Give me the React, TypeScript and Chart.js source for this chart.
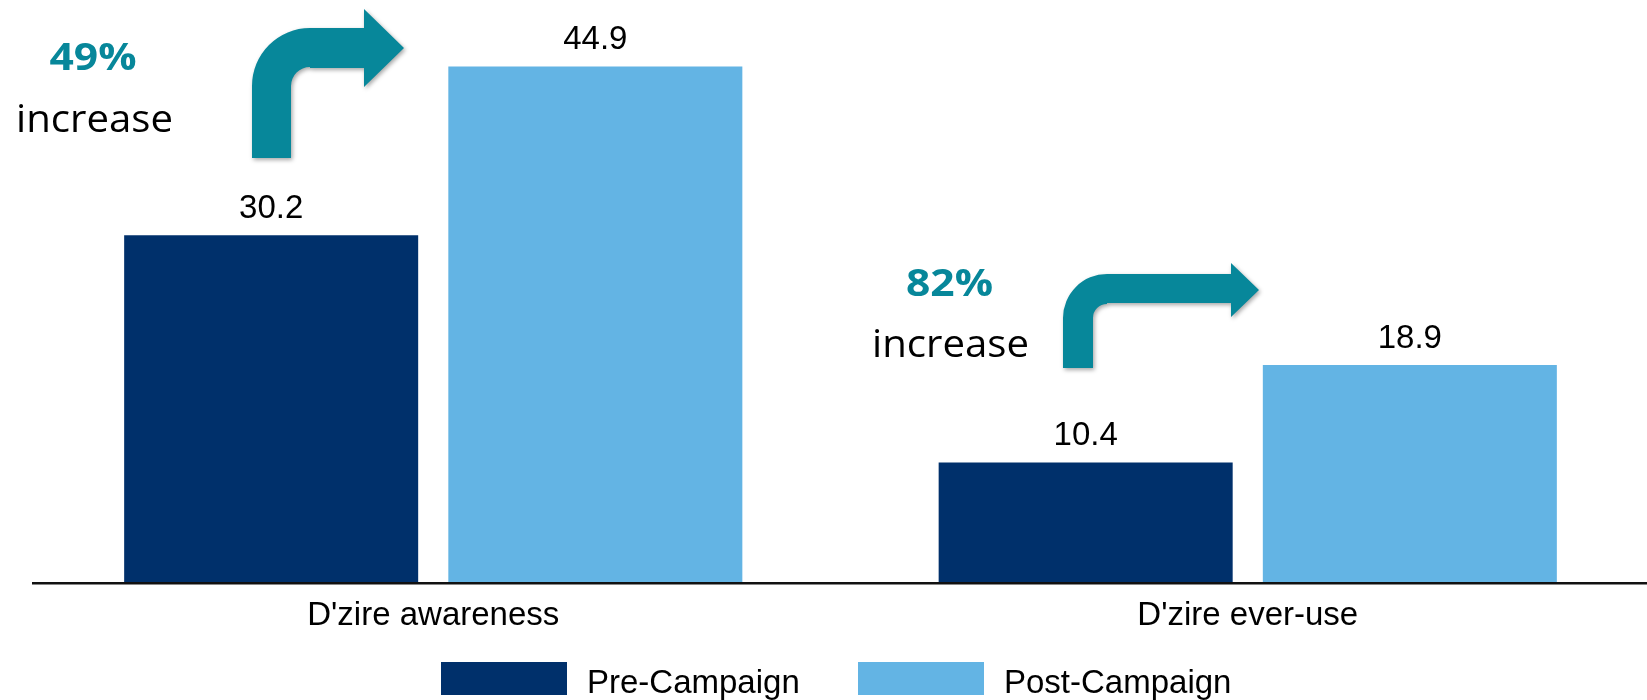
import React, { useEffect, useRef } from "react";
import { Chart, registerables } from "chart.js";

Chart.register(...registerables);

const categories = ["D'zire awareness", "D'zire ever-use"];
const seriesNames = ["Pre-Campaign", "Post-Campaign"];
const preCampaign = [30.2, 10.4];
const postCampaign = [44.9, 18.9];
const increaseLabels = ["49%", "82%"];
const increaseWord = "increase";

const PRE_COLOR = "#00306B";
const POST_COLOR = "#63B4E4";
const TEAL = "#07879A";
const ARIAL = "'Liberation Sans', Arial, sans-serif";
const CALIBRI = "'Open Sans', 'Noto Sans', sans-serif";

function drawBentArrow(
  ctx: CanvasRenderingContext2D,
  stemLeft: number,
  stemRight: number,
  stemBottom: number,
  bandTop: number,
  bandBottom: number,
  outerR: number,
  headBase: number,
  headTop: number,
  headBottom: number,
  tipX: number
) {
  const innerR = outerR - (stemRight - stemLeft);
  const cx = stemLeft + outerR;
  const cy = bandTop + outerR;
  const tipY = (headTop + headBottom) / 2;
  ctx.beginPath();
  ctx.moveTo(stemLeft, stemBottom);
  ctx.lineTo(stemLeft, cy);
  ctx.arc(cx, cy, outerR, Math.PI, 1.5 * Math.PI);
  ctx.lineTo(headBase, bandTop);
  ctx.lineTo(headBase, headTop);
  ctx.lineTo(tipX, tipY);
  ctx.lineTo(headBase, headBottom);
  ctx.lineTo(headBase, bandBottom);
  ctx.lineTo(cx, bandBottom);
  ctx.arc(cx, cy, innerR, 1.5 * Math.PI, Math.PI, true);
  ctx.lineTo(stemRight, stemBottom);
  ctx.closePath();
  ctx.fill();
}

function drawStretchedText(
  ctx: CanvasRenderingContext2D,
  text: string,
  cx: number,
  baseline: number,
  font: string,
  color: string,
  sx: number
) {
  ctx.save();
  ctx.font = font;
  ctx.fillStyle = color;
  ctx.textAlign = "center";
  ctx.textBaseline = "alphabetic";
  ctx.translate(cx, baseline);
  ctx.scale(sx, 1);
  ctx.fillText(text, 0, 0);
  ctx.restore();
}

const decorPlugin = {
  id: "decor",
  afterDatasetsDraw(chart: any) {
    const ctx: CanvasRenderingContext2D = chart.ctx;
    // value labels
    ctx.save();
    ctx.font = `33px ${ARIAL}`;
    ctx.fillStyle = "#000";
    ctx.textAlign = "center";
    ctx.textBaseline = "alphabetic";
    chart.data.datasets.forEach((ds: any, di: number) => {
      const meta = chart.getDatasetMeta(di);
      meta.data.forEach((el: any, i: number) => {
        ctx.fillText(Number(ds.data[i]).toFixed(1), el.x, el.y - 17.5);
      });
    });
    ctx.restore();

    // axis line
    ctx.save();
    ctx.fillStyle = "#111";
    ctx.fillRect(32, chart.chartArea.bottom, 1700, 2.5);
    ctx.restore();

    // arrows
    ctx.save();
    ctx.fillStyle = TEAL;
    ctx.shadowColor = "rgba(0,0,0,0.35)";
    ctx.shadowBlur = 4;
    ctx.shadowOffsetX = 1.5;
    ctx.shadowOffsetY = 2;
    drawBentArrow(ctx, 252, 291, 158, 28, 68, 58, 364, 9, 87, 404);
    drawBentArrow(ctx, 1063, 1093, 368, 274, 303, 44, 1231, 263, 317, 1259);
    ctx.restore();

    // annotation texts
    drawStretchedText(ctx, increaseLabels[0], 93, 70, `bold 38px ${CALIBRI}`, TEAL, 1.12);
    drawStretchedText(ctx, increaseWord, 94.5, 132, `39px ${CALIBRI}`, "#000", 1.03);
    drawStretchedText(ctx, increaseLabels[1], 949.5, 296, `bold 38px ${CALIBRI}`, TEAL, 1.12);
    drawStretchedText(ctx, increaseWord, 950.5, 357, `39px ${CALIBRI}`, "#000", 1.03);

    // legend
    ctx.save();
    ctx.font = `33px ${ARIAL}`;
    ctx.textAlign = "left";
    ctx.textBaseline = "alphabetic";
    const legendX = [441, 858];
    const colors = [PRE_COLOR, POST_COLOR];
    seriesNames.forEach((name, i) => {
      ctx.fillStyle = colors[i];
      ctx.fillRect(legendX[i], 662, 126, 33);
      ctx.fillStyle = "#000";
      ctx.fillText(name, legendX[i] + 146, 693);
    });
    ctx.restore();
  },
};

export default function App() {
  const ref = useRef<HTMLCanvasElement | null>(null);
  useEffect(() => {
    if (!ref.current) return;
    const chart = new Chart(ref.current, {
      type: "bar",
      data: {
        labels: categories,
        datasets: [
          {
            label: seriesNames[0],
            data: preCampaign,
            backgroundColor: PRE_COLOR,
            categoryPercentage: 0.796,
            barPercentage: 0.907,
          },
          {
            label: seriesNames[1],
            data: postCampaign,
            backgroundColor: POST_COLOR,
            categoryPercentage: 0.796,
            barPercentage: 0.907,
          },
        ],
      },
      options: {
        responsive: false,
        animation: false,
        layout: { padding: { left: 26, right: 9, top: 8, bottom: 0 } },
        plugins: {
          legend: { display: false },
          tooltip: { enabled: false },
          title: { display: false },
        },
        scales: {
          x: {
            grid: { display: false, drawTicks: false },
            border: { display: false },
            ticks: {
              font: { size: 33, family: ARIAL },
              color: "#000",
              padding: 14,
              maxRotation: 0,
              autoSkip: false,
            },
            afterFit: (scale: any) => {
              scale.height = 118;
            },
          },
          y: {
            display: false,
            min: 0,
            max: 50,
          },
        },
      },
      plugins: [decorPlugin],
    });
    return () => chart.destroy();
  }, []);
  return (
    <div
      style={{
        position: "fixed",
        left: 0,
        top: 0,
        width: 1647,
        height: 700,
        overflow: "hidden",
        background: "#fff",
      }}
    >
      <canvas ref={ref} width={1664} height={700} style={{ display: "block" }} />
    </div>
  );
}
